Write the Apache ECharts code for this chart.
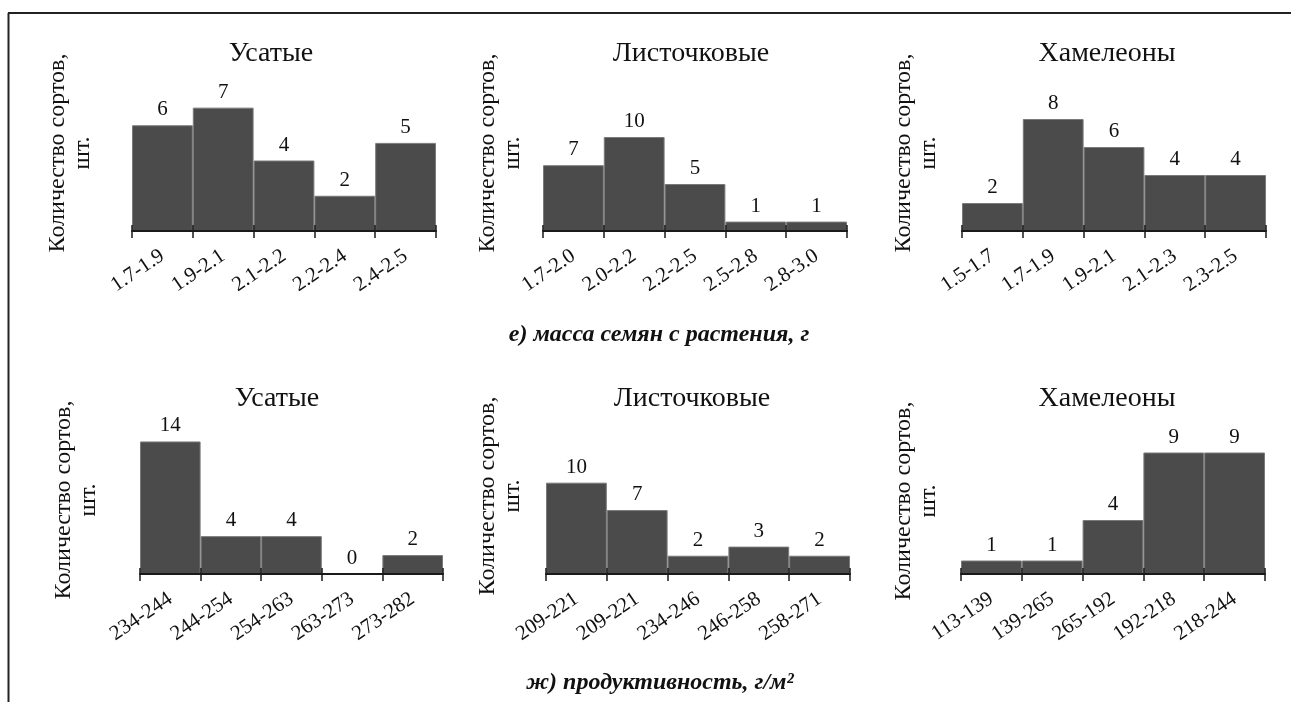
<!DOCTYPE html>
<html>
<head>
<meta charset="utf-8">
<script src="https://cdn.jsdelivr.net/npm/echarts@6/dist/echarts.min.js"></script>
<style>
  html, body { margin: 0; padding: 0; background: #fff; }
  #chart { width: 1291px; height: 702px; }
</style>
</head>
<body>
<div id="chart"></div>
<script>
// Seed mass per plant, g
const seedCatsUs = ['1.7-1.9', '1.9-2.1', '2.1-2.2', '2.2-2.4', '2.4-2.5'];
const seedUs = [6, 7, 4, 2, 5];
const seedCatsList = ['1.7-2.0', '2.0-2.2', '2.2-2.5', '2.5-2.8', '2.8-3.0'];
const seedList = [7, 10, 5, 1, 1];
const seedCatsCham = ['1.5-1.7', '1.7-1.9', '1.9-2.1', '2.1-2.3', '2.3-2.5'];
const seedCham = [2, 8, 6, 4, 4];

// Productivity, g/m²
const yieldCatsUs = ['234-244', '244-254', '254-263', '263-273', '273-282'];
const yieldUs = [14, 4, 4, 0, 2];
const yieldCatsList = ['209-221', '209-221', '234-246', '246-258', '258-271'];
const yieldList = [10, 7, 2, 3, 2];
const yieldCatsCham = ['113-139', '139-265', '265-192', '192-218', '218-244'];
const yieldCham = [1, 1, 4, 9, 9];

const groupNames = ['Усатые', 'Листочковые', 'Хамелеоны'];
const captionSeed = 'е) масса семян с растения, г';
const captionYield = 'ж) продуктивность, г/м²';
const yName = 'Количество сортов,\nшт.';

const SERIF = "'Liberation Serif', 'Times New Roman', serif";
const INK = '#111';

// panel layout: plot box and value-axis maximum
const panels = [
  { cats: seedCatsUs,   vals: seedUs,   title: groupNames[0], left: 132, top: 90,  width: 304, height: 141, max: 8,  titleX: 271, titleY: 55,  nameX: 70,  nameY: 153 },
  { cats: seedCatsList, vals: seedList, title: groupNames[1], left: 543, top: 90,  width: 304, height: 141, max: 15, titleX: 691, titleY: 55,  nameX: 500, nameY: 153 },
  { cats: seedCatsCham, vals: seedCham, title: groupNames[2], left: 962, top: 91,  width: 304, height: 140, max: 10, titleX: 1107, titleY: 55, nameX: 916, nameY: 153 },
  { cats: yieldCatsUs,   vals: yieldUs,   title: groupNames[0], left: 140, top: 432, width: 303, height: 142, max: 15, titleX: 277, titleY: 400, nameX: 76,  nameY: 500 },
  { cats: yieldCatsList, vals: yieldList, title: groupNames[1], left: 546, top: 437, width: 304, height: 137, max: 15, titleX: 692, titleY: 400, nameX: 500, nameY: 496 },
  { cats: yieldCatsCham, vals: yieldCham, title: groupNames[2], left: 961, top: 439, width: 304, height: 135, max: 10, titleX: 1107, titleY: 400, nameX: 916, nameY: 501 }
];

const grid = [], xAxis = [], yAxis = [], series = [], title = [], graphic = [];

panels.forEach((p, i) => {
  grid.push({ left: p.left, top: p.top, width: p.width, height: p.height, containLabel: false });
  // main category axis: line, outward ticks, rotated labels
  xAxis.push({
    type: 'category', gridIndex: i, data: p.cats, position: 'bottom', z: 3,
    axisLine: { show: true, lineStyle: { color: '#1a1a1a', width: 2 } },
    axisTick: { show: true, alignWithLabel: false, length: 7, lineStyle: { color: '#1a1a1a', width: 1.5 } },
    axisLabel: { rotate: 34, margin: 23, interval: 0, color: INK, fontFamily: SERIF, fontSize: 21 },
    splitLine: { show: false }
  });
  // companion axis carrying the upward half of each tick
  xAxis.push({
    type: 'category', gridIndex: i, data: p.cats, position: 'bottom', z: 3,
    axisLine: { show: false },
    axisTick: { show: true, inside: true, length: 6, lineStyle: { color: '#1a1a1a', width: 1.5 } },
    axisLabel: { show: false },
    splitLine: { show: false }
  });
  yAxis.push({ type: 'value', gridIndex: i, min: 0, max: p.max, show: false, splitLine: { show: false } });
  series.push({
    type: 'bar', xAxisIndex: i * 2, yAxisIndex: i, data: p.vals,
    barWidth: '100%', barCategoryGap: 0,
    itemStyle: { color: '#4b4b4b', borderColor: '#7a7a7a', borderWidth: 1 },
    label: { show: true, position: 'top', distance: 5, color: INK, fontFamily: SERIF, fontSize: 21 },
    emphasis: { disabled: true },
    animation: false
  });
  title.push({
    text: p.title, left: p.titleX, top: p.titleY - 15, textAlign: 'center', padding: 0,
    textStyle: { fontFamily: SERIF, fontSize: 28, fontWeight: 'normal', color: INK }
  });
  graphic.push({
    type: 'text', x: p.nameX, y: p.nameY, rotation: Math.PI / 2,
    style: {
      text: yName, fontFamily: SERIF, fontSize: 24, lineHeight: 25, fill: INK,
      textAlign: 'center', textVerticalAlign: 'middle'
    }
  });
});

// row captions
graphic.push({
  type: 'text', x: 659, y: 335,
  style: { text: captionSeed, fontFamily: SERIF, fontSize: 24, fontWeight: 'bold', fontStyle: 'italic', fill: INK, textAlign: 'center', textVerticalAlign: 'middle' }
});
graphic.push({
  type: 'text', x: 660, y: 683,
  style: { text: captionYield, fontFamily: SERIF, fontSize: 24, fontWeight: 'bold', fontStyle: 'italic', fill: INK, textAlign: 'center', textVerticalAlign: 'middle' }
});
// frame along the left and top edges
graphic.push({ type: 'line', shape: { x1: 8.5, y1: 13, x2: 8.5, y2: 702 }, style: { stroke: '#222', lineWidth: 2 } });
graphic.push({ type: 'line', shape: { x1: 8, y1: 13, x2: 1291, y2: 13 }, style: { stroke: '#222', lineWidth: 2 } });

const chart = echarts.init(document.getElementById('chart'), null, { renderer: 'canvas' });
chart.setOption({
  backgroundColor: '#fff',
  animation: false,
  title, grid, xAxis, yAxis, series, graphic
});
</script>
</body>
</html>
